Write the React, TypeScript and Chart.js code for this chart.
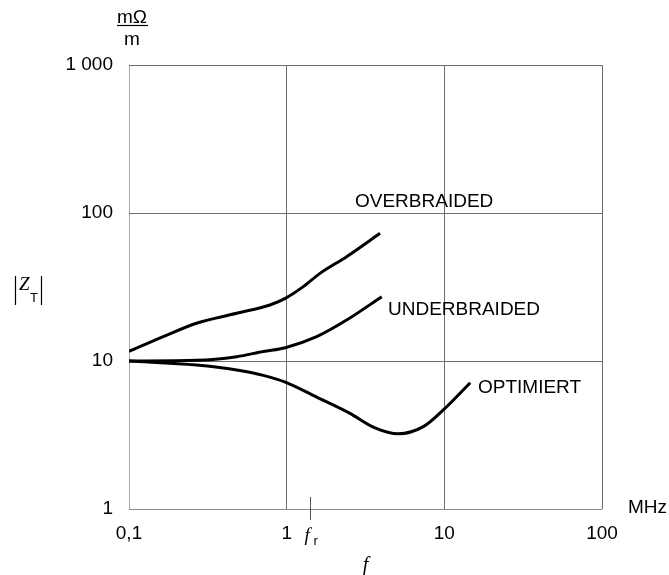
import React, { useEffect, useRef } from "react";
import { Chart, registerables } from "chart.js";

Chart.register(...registerables);

// Transfer impedance |Z_T| (mΩ/m) versus frequency f (MHz)
const overFreq = [0.1, 0.165, 0.268, 0.482, 0.783, 0.98, 1.275, 1.626, 2.4, 3.91];
const overZ = [11.6, 14.6, 18.0, 21.0, 23.9, 26.5, 31.8, 39.1, 50.7, 72.9];

const underFreq = [0.1, 0.268, 0.482, 0.711, 0.98, 1.55, 2.4, 4.01];
const underZ = [10.0, 10.1, 10.7, 11.6, 12.3, 14.6, 18.9, 27.2];

const optFreq = [0.1, 0.268, 0.482, 0.711, 0.98, 1.55, 2.52, 3.6, 5.1, 7.36, 9.85, 14.6];
const optZ = [10.0, 9.4, 8.7, 8.0, 7.2, 5.7, 4.43, 3.55, 3.22, 3.6, 4.67, 7.13];

const seriesNames = ["OVERBRAIDED", "UNDERBRAIDED", "OPTIMIERT"];

const xTicks = [0.1, 1, 10, 100];
const xTickLabels = ["0,1", "1", "10", "100"];
const yTicks = [1, 10, 100, 1000];
const yTickLabels = ["1", "10", "100", "1 000"];

const resonanceFreq = 1.4;

const SANS = "'Liberation Sans', Arial, sans-serif";
const SERIF = "'Liberation Serif', 'Times New Roman', serif";

const toPoints = (xs: number[], ys: number[]) => xs.map((x, i) => ({ x, y: ys[i] }));

const annotations = {
  id: "annotations",
  afterDraw(chart: any) {
    const { ctx } = chart;
    const xs = chart.scales.x;
    const area = chart.chartArea;
    ctx.save();
    ctx.fillStyle = "#000";
    ctx.strokeStyle = "#000";
    ctx.textBaseline = "alphabetic";

    // series names
    ctx.font = `19px ${SANS}`;
    ctx.textAlign = "left";
    ctx.fillText(seriesNames[0], 355, 207);
    ctx.fillText(seriesNames[1], 388, 315);
    ctx.fillText(seriesNames[2], 478, 393);

    // unit mΩ / m above the y axis
    ctx.textAlign = "center";
    ctx.fillText("mΩ", 132, 23);
    ctx.fillText("m", 132, 45);
    ctx.lineWidth = 1.2;
    ctx.beginPath();
    ctx.moveTo(117, 25.5);
    ctx.lineTo(148, 25.5);
    ctx.stroke();

    // MHz unit next to the x axis
    ctx.textAlign = "left";
    ctx.fillText("MHz", 628, 513);

    // |Z_T| axis label
    ctx.lineWidth = 1.2;
    ctx.beginPath();
    ctx.moveTo(15.5, 276);
    ctx.lineTo(15.5, 305);
    ctx.moveTo(41.5, 276);
    ctx.lineTo(41.5, 305);
    ctx.stroke();
    ctx.font = `italic 19px ${SERIF}`;
    ctx.fillText("Z", 19, 290);
    ctx.font = `13px ${SANS}`;
    ctx.fillText("T", 30, 302);

    // resonance frequency marker f_r
    const fr = Math.round(xs.getPixelForValue(resonanceFreq)) + 0.5;
    ctx.lineWidth = 1;
    ctx.strokeStyle = "#555";
    ctx.beginPath();
    ctx.moveTo(fr, area.bottom - 12);
    ctx.lineTo(fr, area.bottom + 11);
    ctx.stroke();
    ctx.font = `italic 19px ${SERIF}`;
    ctx.fillText("f", fr - 6, 541);
    ctx.font = `13px ${SANS}`;
    ctx.fillText("r", fr + 3, 545);

    // x axis title
    ctx.font = `italic 20px ${SERIF}`;
    ctx.textAlign = "center";
    ctx.fillText("f", (area.left + area.right) / 2, 571);

    ctx.restore();
  },
};

export default function App() {
  const canvasRef = useRef<HTMLCanvasElement | null>(null);

  useEffect(() => {
    const canvas = canvasRef.current;
    if (!canvas) return;
    const line = {
      borderColor: "#000",
      borderWidth: 3,
      pointRadius: 0,
      fill: false,
      cubicInterpolationMode: "monotone" as const,
    };
    const chart = new Chart(canvas, {
      type: "line",
      data: {
        datasets: [
          { label: seriesNames[0], data: toPoints(overFreq, overZ), ...line },
          { label: seriesNames[1], data: toPoints(underFreq, underZ), ...line },
          { label: seriesNames[2], data: toPoints(optFreq, optZ), ...line },
        ],
      },
      options: {
        responsive: false,
        animation: false,
        layout: { padding: { top: 65, right: 67, left: 0, bottom: 0 } },
        plugins: { legend: { display: false }, tooltip: { enabled: false } },
        scales: {
          x: {
            type: "logarithmic",
            min: 0.1,
            max: 100,
            afterBuildTicks: (s: any) => {
              s.ticks = xTicks.map((v) => ({ value: v }));
            },
            afterFit: (s: any) => {
              s.height = 66;
            },
            border: { display: false },
            grid: {
              drawTicks: false,
              lineWidth: 1,
              color: (c: any) => (c.tick && c.tick.value === 0.1 ? "#a8a8a8" : "#6e6e6e"),
            },
            ticks: {
              padding: 13,
              color: "#000",
              font: { family: SANS, size: 19 },
              maxRotation: 0,
              autoSkip: false,
              callback: (_v: any, i: number) => xTickLabels[i],
            },
          },
          y: {
            type: "logarithmic",
            min: 1,
            max: 1000,
            afterBuildTicks: (s: any) => {
              s.ticks = yTicks.map((v) => ({ value: v }));
            },
            afterFit: (s: any) => {
              s.width = 129;
            },
            border: { display: false },
            grid: {
              drawTicks: false,
              lineWidth: 1,
              color: (c: any) => (c.tick && c.tick.value === 1 ? "#8a8a8a" : "#6e6e6e"),
            },
            ticks: {
              padding: 16,
              color: "#000",
              font: { family: SANS, size: 19 },
              autoSkip: false,
              callback: (_v: any, i: number) => yTickLabels[i],
            },
          },
        },
      },
      plugins: [annotations],
    });
    return () => chart.destroy();
  }, []);

  return (
    <div style={{ position: "absolute", left: 0, top: 0, width: 669, height: 575, background: "#fff" }}>
      <canvas ref={canvasRef} width={669} height={575} />
    </div>
  );
}
